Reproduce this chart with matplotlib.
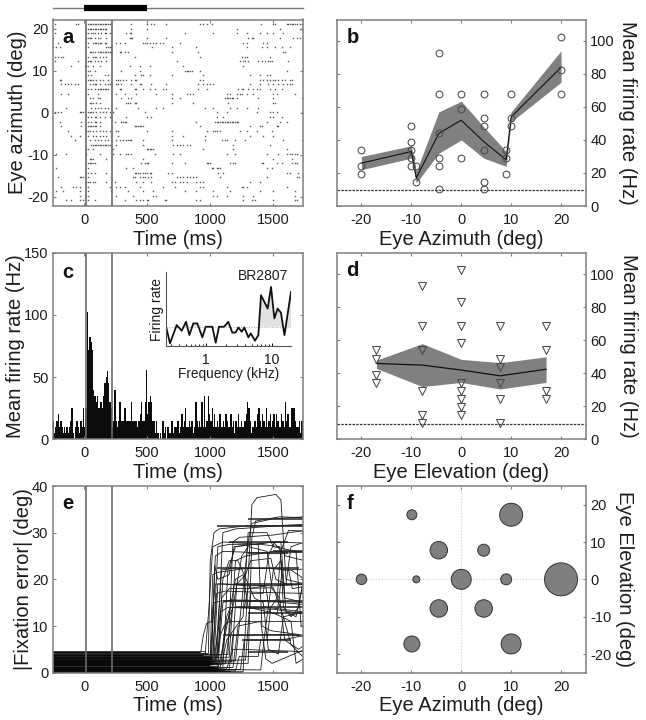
import numpy as np
import matplotlib
matplotlib.use('Agg')
import matplotlib.pyplot as plt

plt.rcParams['font.family'] = ['Liberation Sans', 'DejaVu Sans']
plt.rcParams['axes.unicode_minus'] = False

GREY = '#7f7f7f'
TXT = '#1c1c1c'
W, H = 646, 720

# panel a: spike times (ms) per row, top row first
row_y = [21.1 - 1.105 * i for i in range(39)]
spikes = [
    [-233, -61, -48, 32, 45, 58, 71, 85, 98, 111, 124, 138, 151, 164, 177, 190, 204, 376, 495, 534, 553, 653, 918, 944, 971, 1010, 1399, 1500, 1513, 1605, 1619, 1632, 1645, 1658, 1672, 1685, 1711, 1724],
    [32, 45, 58, 71, 85, 98, 111, 124, 138, 151, 164, 177, 376, 495, 1209, 1553, 1711, 1724],
    [-233, 19, 32, 58, 71, 85, 111, 138, 164, 177, 204, 336, 362, 376, 799, 1024, 1209, 1288, 1394, 1447, 1500, 1579],
    [-246, 19, 32, 45, 58, 85, 111, 124, 177, 362, 376, 382, 495, 653, 1301, 1328, 1341, 1553, 1658, 1685, 1711],
    [-206, 32, 71, 85, 98, 111, 124, 138, 164, 177, 257, 283, 323, 468, 481, 495, 521, 547, 574, 600, 627, 759, 1262, 1288, 1420, 1447],
    [-246, -220, -193, 32, 177, 190, 204, 217, 541, 693, 891, 1288, 1407, 1447, 1513, 1566, 1632],
    [45, 58, 71, 85, 111, 124, 138, 151, 164, 177, 190, 204, 217, 283, 296, 323, 349, 693, 905, 1579, 1592],
    [-233, -206, -180, -167, 32, 71, 85, 98, 124, 151, 177, 402, 918, 1248, 1275, 1288, 1473],
    [-233, -48, 32, 45, 58, 85, 111, 138, 177, 733, 1235, 1262, 1275, 1301, 1381, 1407, 1434, 1460, 1473, 1486, 1619],
    [-100, 5, 19, 32, 71, 124, 362, 442, 521, 786, 1262],
    [32, 45, 85, 296, 442, 799, 812, 825, 838, 852, 918, 1605],
    [32, 58, 164, 190, 402, 455, 468, 521, 693, 944, 1315, 1394, 1447, 1473],
    [-193, -180, 32, 45, 58, 71, 98, 124, 151, 190, 257, 270, 283, 309, 336, 376, 402, 415, 918, 944, 1394, 1420, 1447, 1473, 1500, 1513, 1539, 1566, 1592, 1632, 1645],
    [-180, -153, -127, -100, -74, -48, 45, 71, 85, 98, 124, 164, 190, 204, 257, 270, 296, 376, 442, 455, 534, 653, 905, 944, 971, 997, 1024, 1315, 1394, 1460, 1500, 1539, 1579, 1605, 1632, 1645],
    [32, 58, 85, 111, 124, 138, 151, 164, 177, 190, 283, 296, 402, 415, 468, 521, 560, 627, 653, 905, 971, 1222, 1248, 1262, 1301, 1341, 1367, 1394, 1473, 1513, 1566],
    [-180, -127, 32, 111, 257, 323, 415, 574, 693, 812, 838, 865, 1129, 1156, 1209, 1235, 1248, 1288, 1341, 1500, 1526, 1672],
    [45, 71, 111, 124, 296, 349, 376, 693, 759, 1116, 1129, 1143, 1156, 1169, 1182, 1209, 1381, 1500, 1724],
    [45, 58, 71, 98, 124, 336, 349, 362, 402, 415, 693, 865, 1143, 1500, 1513],
    [-140, 58, 85, 111, 138, 164, 190, 257, 428, 574, 627, 962, 1024, 1156, 1209, 1288, 1381],
    [-233, -206, -180, -34, -21, -8, 32, 45, 58, 71, 98, 124, 151, 177, 204, 230, 481, 1050, 1129, 1367, 1473, 1500, 1526, 1724],
    [32, 58, 85, 98, 124, 164, 204, 336, 495, 534, 1050, 1103, 1473, 1500, 1566],
    [-193, -21, 32, 58, 85, 98, 124, 243, 296, 309, 323, 336, 891, 1037, 1050, 1063, 1076, 1090, 1103, 1116, 1129, 1143, 1156, 1169, 1182, 1195, 1209, 1222, 1447, 1553, 1605],
    [-180, -21, 32, 45, 58, 71, 85, 98, 124, 402, 415, 428, 442, 455, 468, 918, 1315, 1394, 1407, 1526, 1539],
    [-127, 19, 32, 45, 71, 98, 124, 151, 177, 204, 257, 270, 495, 693, 971, 1024, 1037, 1050, 1076, 1235, 1288, 1367, 1486],
    [-100, -34, 32, 71, 98, 124, 151, 177, 217, 270, 693, 786, 957, 1315, 1420, 1500],
    [-74, 45, 85, 111, 138, 164, 190, 257, 283, 309, 336, 349, 362, 376, 468, 693, 957, 1090, 1116, 1129, 1195, 1275, 1579, 1724],
    [58, 71, 85, 98, 111, 124, 138, 151, 164, 177, 190, 204, 257, 468, 706, 733, 759, 786, 812, 838, 1182, 1473],
    [19, 32, 71, 230, 495, 508, 521, 534, 547, 944, 1182, 1605],
    [-220, -140, 19, 124, 230, 283, 336, 349, 376, 561, 706, 759, 1129, 1195, 1447, 1539, 1605, 1632, 1645, 1672, 1685],
    [45, 58, 71, 177, 468, 1500, 1645],
    [32, 45, 58, 71, 85, 455, 481, 495, 508, 693, 799, 971, 984, 997, 1156, 1182, 1195, 1407, 1420, 1526, 1566, 1645, 1672, 1685],
    [-220, 32, 336, 389, 1010, 1024, 1050, 1063, 1076, 1447, 1486],
    [32, 58, 85, 177, 402, 415, 428, 442, 468, 481, 495, 521, 534, 667, 693, 1063, 1103, 1605, 1632, 1698],
    [-206, -34, -21, -8, 32, 217, 389, 402, 442, 468, 481, 508, 534, 733, 759, 786, 812, 838, 865, 891, 1076, 1447, 1685, 1700],
    [19, 32, 45, 71, 85, 177, 243, 415, 468, 534, 693, 719, 759, 786, 812, 891, 918, 944, 1315, 1394],
    [-180, -87, -61, -34, 32, 204, 257, 283, 323, 442, 627, 719, 918, 944, 1129, 1248, 1262, 1288, 1605],
    [-220, -167, -34, 32, 217, 349, 468, 547, 800, 891, 1024, 1156, 1394, 1500, 1672],
    [-34, 32, 257, 389, 547, 574, 1024, 1050, 1129, 1262, 1341, 1672],
    [-140, -100, -34, -8, 32, 85, 323, 415, 442, 468, 495, 508, 640, 653, 891, 918, 1262, 1328, 1354, 1500, 1672, 1685],
]

# panel b: eye azimuth tuning
b_x = [-20, -10, -9, -4.5, 0, 4.5, 9, 10, 20]
b_mean = [26, 33, 17, 44, 52, 39, 28, 54, 84]
b_upper = [30, 36.5, 21, 57, 63.5, 48, 33, 57, 94]
b_lower = [22, 29, 14, 32, 40, 29, 24, 51, 75]
b_trials = {
    -20: [34, 24, 19.5],
    -10: [48.5, 39, 34, 29, 24],
    -9: [24, 14.5],
    -4.5: [92.5, 68, 44, 29, 24, 10],
    0: [68, 58.5, 29],
    4.5: [68, 53.5, 48.5, 34, 14.5, 10],
    9: [34, 29, 19.5],
    10: [68, 53.5, 48.5],
    20: [102.5, 82.5, 68],
}
spont_rate = 9.5

# panel c: PSTH, 10 ms bins starting at -250 ms
psth = [15, 5, 10, 15, 20, 10, 15, 10, 5, 10, 5, 10, 5, 10, 15, 25, 5, 0, 10, 15, 10, 5, 15, 10, 25,
        10, 25, 102, 72, 82, 78, 72, 40, 35, 30,
        35, 25, 25, 30, 25, 35, 45, 50, 55, 45,
        30, 25, 10, 15, 40, 15, 10, 15, 30, 15,
        15, 15, 25, 15, 15, 15, 15, 30, 15, 15,
        15, 15, 10, 15, 20, 30, 15, 15, 30, 56,
        20, 30, 35, 30, 15, 15, 5, 15, 5, 0,
        5, 0, 15, 5, 10, 0, 10, 5, 5, 15,
        5, 10, 10, 10, 15, 5, 10, 20, 10, 15,
        25, 10, 10, 15, 10, 15, 5, 10, 30, 15,
        10, 15, 10, 30, 10, 35, 10, 15, 35, 20,
        15, 25, 10, 20, 10, 15, 10, 20, 10, 10,
        15, 10, 20, 15, 10, 10, 20, 10, 15, 5,
        15, 10, 20, 10, 15, 10, 10, 15, 20, 30,
        25, 15, 5, 10, 10, 15, 10, 20, 25, 15,
        10, 20, 15, 10, 25, 10, 15, 20, 10, 15,
        20, 10, 20, 15, 10, 10, 20, 15, 10, 30,
        15, 20, 10, 10, 25, 25, 25, 15, 10, 10,
        15, 5, 15, 10]

# panel c inset: frequency tuning
freq = [0.248, 0.288, 0.364, 0.433, 0.504, 0.566, 0.65, 0.748, 0.89, 1.0, 1.26, 1.42, 1.59, 1.9, 2.2, 2.54,
        2.85, 3.13, 3.51, 3.85, 4.43, 4.81, 5.59, 6.28, 6.89, 8.69, 9.77, 10.97, 12.3, 13.8, 15.6, 19.6]
freq_rate = [63, 8, 63, 46, 73, 33, 68, 68, 26, 58, 58, 10, 58, 58, 73, 40,
             41, 56, 43, 56, 26, 38, 16, 33, 153, 113, 178, 83, 113, 100, 33, 163]
freq_base = 58

# panel d: eye elevation tuning
d_x = [-17, -7.8, 0, 7.8, 17]
d_mean = [46, 45, 42, 38.5, 42.5]
d_upper = [48, 58, 48.5, 46.5, 50]
d_lower = [43, 32, 34.5, 30.5, 34.5]
d_trials = {
    -17: [54, 49, 39, 34],
    -7.8: [93, 68.5, 54, 29.5, 14.5, 10],
    0: [102.5, 83, 68.5, 58.5, 34, 29.5, 24.5, 19.5, 14.5],
    7.8: [68.5, 49, 44, 34, 24.5, 10],
    17: [68.5, 54, 29.5, 24.5],
}

# panel e: |fixation error| traces as (time, deg) vertices
traces = [
    [(-250, 4.4), (925, 4.4), (945, 8), (970, 10.5), (1010, 11), (1040, 19), (1100, 19), (1300, 18.6), (1750, 19)],
    [(-250, 4.1), (985, 4.1), (1000, 24), (1030, 30), (1070, 30.8), (1300, 31.5), (1750, 31.5)],
    [(-250, 4.0), (960, 4), (990, 14), (1020, 27), (1100, 28), (1400, 27.5), (1550, 27), (1590, 16), (1750, 15)],
    [(-250, 3.8), (1000, 3.8), (1020, 21), (1060, 21.5), (1300, 22.4), (1620, 22.2), (1650, 18), (1750, 18.5)],
    [(-250, 3.45), (1010, 3.45), (1040, 25), (1100, 26), (1500, 25.6), (1750, 25.8)],
    [(-250, 3.4), (1000, 3.4), (1030, 15), (1090, 15.4), (1500, 15.2), (1750, 14.6)],
    [(-250, 3.2), (1020, 3.2), (1050, 17), (1120, 17.5), (1400, 17.2), (1750, 17)],
    [(-250, 2.85), (1020, 2.85), (1060, 27), (1150, 27.5), (1380, 27.5), (1410, 10), (1480, 9), (1750, 8)],
    [(-250, 2.8), (1030, 2.8), (1060, 19), (1120, 19), (1500, 18.6), (1750, 18.9)],
    [(-250, 2.6), (1030, 2.6), (1080, 13), (1140, 14), (1500, 13.6), (1750, 12.6)],
    [(-250, 2.4), (1040, 2.4), (1090, 22), (1180, 22.4), (1500, 22.3), (1600, 22), (1750, 22.2)],
    [(-250, 2.2), (1040, 2.2), (1080, 8), (1110, 10), (1150, 11), (1750, 11)],
    [(-250, 2.0), (1050, 2), (1100, 30), (1200, 30.8), (1600, 31.6), (1750, 31.8)],
    [(-250, 1.8), (1060, 1.8), (1090, 16), (1150, 18), (1500, 18.2), (1580, 12), (1640, 6), (1750, 3)],
    [(-250, 1.3), (1060, 1.3), (1100, 15), (1160, 15.6), (1500, 15.4), (1750, 15)],
    [(-250, 1.2), (1080, 1.2), (1130, 12), (1160, 14), (1450, 14), (1750, 13)],
    [(-250, 1.0), (1100, 1), (1140, 22), (1200, 27), (1500, 28), (1720, 27.8)],
    [(-250, 0.8), (1130, 0.8), (1180, 5), (1250, 5), (1750, 4.5)],
    [(-250, 0.6), (1150, 0.6), (1180, 8), (1250, 8), (1600, 8.2), (1750, 7.8)],
    [(-250, 0.4), (1200, 0.4), (1230, 3.5), (1380, 3.5), (1400, 7), (1600, 7.2), (1750, 8)],
    [(-250, 0.2), (1260, 0.2), (1300, 20), (1330, 36), (1370, 37.5), (1520, 38.2), (1560, 37), (1600, 20), (1750, 19)],
    [(-250, 3.9), (1140, 3.9), (1180, 28), (1230, 29), (1500, 29.5), (1750, 30.5)],
    [(-250, 3.3), (1150, 3.3), (1200, 24), (1280, 25), (1500, 26), (1750, 26)],
    [(-250, 2.5), (1200, 2.5), (1300, 28), (1330, 32), (1500, 33), (1750, 33.4)],
    [(-250, 2.1), (1300, 2), (1330, 29), (1360, 32.5), (1550, 33.4), (1750, 33.2)],
    [(-250, 1.1), (1180, 1.1), (1220, 10), (1400, 11), (1440, 3), (1490, 2), (1750, 5)],
    [(-250, 0.9), (1400, 0.6), (1430, 8), (1500, 22), (1560, 24), (1580, 14), (1640, 12), (1700, 14), (1750, 22)],
    [(-250, 0.1), (1050, 0.1), (1090, 4), (1200, 20), (1260, 21), (1300, 14), (1500, 12.8), (1640, 11), (1680, 2), (1740, 3)],
    [(-250, 3.8), (1090, 3.8), (1120, 10), (1180, 14), (1270, 14), (1300, 18), (1440, 18.6), (1470, 13), (1530, 12.5), (1570, 22), (1640, 22), (1750, 20)],
    [(-250, 4.5), (960, 4.5), (975, 2), (1000, 0.5), (1120, 0.4)],
    [(-250, 2.9), (1010, 2.9), (1035, 23), (1060, 20), (1150, 21), (1190, 27), (1500, 28), (1600, 25), (1750, 24)],
    [(-250, 0.7), (1240, 0.7), (1270, 7), (1450, 7), (1480, 14), (1530, 16), (1560, 26), (1620, 30.5), (1750, 30.3)],
    [(-250, 1.9), (1120, 1.9), (1160, 11), (1250, 25), (1300, 27), (1450, 26), (1490, 18), (1550, 16), (1590, 7), (1700, 5), (1750, 6)],
    [(-250, 2.3), (1170, 2.3), (1210, 19), (1280, 21), (1320, 24), (1480, 24.5), (1520, 20), (1600, 19), (1640, 27), (1750, 28)],
    [(-250, 2.7), (1280, 2.7), (1320, 17), (1420, 17), (1460, 25), (1510, 28), (1560, 28), (1600, 13), (1680, 12), (1750, 21)],
    [(-250, 1.7), (1090, 1.7), (1130, 7), (1260, 12), (1300, 30), (1450, 30), (1500, 27), (1680, 26), (1720, 10), (1750, 10)],
    [(-250, 3.25), (1060, 3.25), (1100, 20), (1150, 24), (1220, 24), (1350, 16), (1420, 15), (1460, 5), (1540, 4), (1580, 12), (1750, 13)],
]

# panel e: fixation levels of the other trials and when each one ends
fix_levels = [0.05, 0.15, 0.3, 0.45, 0.55, 0.7, 0.85, 1.0, 1.15, 1.25, 1.7, 1.85, 2.0, 2.15, 2.3, 2.45, 2.6, 2.75,
              3.15, 3.3, 3.45, 3.85, 4.5]
fix_ends = [1180, 1250, 1100, 1160, 1040, 1120, 1090, 1060, 1030, 1010, 1000, 1020, 1050, 980, 1000, 1010, 1030, 990,
            1010, 970, 1000, 940, 920]

# panel e: noisy stretches of the plateaus
hold_start = [1050, 1300, 1150, 1300, 1050, 1200, 1100, 1200, 1300, 1100, 1250, 1300, 1500]
hold_end = [1750, 1750, 1620, 1620, 1700, 1750, 1750, 1750, 1750, 1700, 1640, 1620, 1750]
hold_deg = [31.5, 33, 28, 25.7, 22.4, 19, 15.4, 14, 12.8, 8, 7, 4.4, 26]

# panel f: response at each eye position, marker diameter in pixels
f_az = [-9.9, 10, -4.5, 4.5, -20, -9, 0, 9, 20, -4.5, 4.5, -9.9, 10]
f_el = [17.3, 17.3, 7.8, 7.8, 0, 0, 0, 0, 0, -7.8, -7.8, -17.3, -17.3]
f_diam = [10, 23, 17.5, 12, 10.5, 7, 20, 11, 33, 17.5, 17.5, 16, 20]


def make_axes(left, top, right, bottom):
    return fig.add_axes([left / W, 1 - bottom / H, (right - left) / W, (bottom - top) / H])


def style(ax, side='left'):
    for sp in ax.spines.values():
        sp.set_color(GREY)
        sp.set_linewidth(1.1)
    ax.tick_params(direction='in', length=2, width=0.8, color=GREY, labelsize=10.5,
                   labelcolor=TXT, top=True, bottom=True, left=True, right=True)
    ax.tick_params(axis='x', pad=5)
    ax.tick_params(axis='y', pad=3)
    if side == 'right':
        ax.yaxis.tick_right()
        ax.yaxis.set_label_position('right')
        ax.tick_params(left=True, right=True)


def letter(ax, s, x, y):
    ax.text(x, y, s, transform=ax.transAxes, fontsize=14.5, fontweight='bold', color='#111', va='center')


def stim_lines(ax):
    for t in (18, 222):
        ax.axvline(t, color='#6a6a6a', lw=1.2, zorder=5)


def left_label(ax, s, px):
    # px is where the right edge of the rotated label sits in the figure
    ax.set_ylabel(s, fontsize=14.5, color=TXT)
    ax.yaxis.set_label_coords((px - 52.5) / 250.5, 0.5)


def right_label(ax, s, px):
    # same here, px is the right edge of the label
    ax.set_ylabel(s, fontsize=14.5, color=TXT, rotation=270)
    ax.yaxis.set_label_coords((px - 336.5) / 249.5, 0.5)


fig = plt.figure(figsize=(6.46, 7.2), dpi=100)

time_ticks = [0, 500, 1000, 1500]

# a
ax = make_axes(52.5, 19.5, 303, 206)
style(ax)
for y, ts in zip(row_y, spikes):
    dots = ax.scatter(ts, [y] * len(ts), s=1.0, marker='s', color='#222', alpha=0.75, linewidths=0)
    dots.set_snap(False)
stim_lines(ax)
ax.set_xlim(-250, 1735)
ax.set_ylim(-22.2, 22.2)
ax.set_xticks(time_ticks)
ax.set_yticks([-20, -10, 0, 10, 20])
ax.set_xlabel('Time (ms)', fontsize=14.5, color=TXT, labelpad=2)
left_label(ax, 'Eye azimuth (deg)', 27)
letter(ax, 'a', 0.04, 0.905)
trans = ax.get_xaxis_transform()
ax.plot([-250, 1735], [1.062, 1.062], transform=trans, color='#777', lw=1, clip_on=False)
ax.plot([0, 500], [1.062, 1.062], transform=trans, color='k', lw=4.5, clip_on=False, solid_capstyle='butt')

# b
ax = make_axes(336.5, 19.5, 586, 206)
style(ax, 'right')
ax.fill_between(b_x, b_lower, b_upper, color='#808080', lw=0)
ax.plot(b_x, b_mean, color='#111', lw=0.8)
for x, vals in b_trials.items():
    ax.plot([x] * len(vals), vals, 'o', mfc='none', mec='#4a4a4a', mew=0.75, ms=4.9)
ax.axhline(spont_rate, color='#333', lw=0.9, ls=(0, (2, 1)))
ax.set_xlim(-25, 25)
ax.set_ylim(0, 113)
ax.set_xticks([-20, -10, 0, 10, 20])
ax.set_yticks([0, 20, 40, 60, 80, 100])
ax.set_xlabel('Eye Azimuth (deg)', fontsize=14.5, color=TXT, labelpad=2)
right_label(ax, 'Mean firing rate (Hz)', 637)
letter(ax, 'b', 0.04, 0.905)

# c
ax = make_axes(52.5, 252.7, 303, 439.3)
style(ax)
psth_t = -250 + 10 * np.arange(len(psth))
ax.bar(psth_t, psth, width=11.5, align='edge', color='#0c0c0c', lw=0)
stim_lines(ax)
ax.set_xlim(-250, 1735)
ax.set_ylim(0, 150)
ax.set_xticks(time_ticks)
ax.set_yticks([0, 50, 100, 150])
ax.set_xlabel('Time (ms)', fontsize=14.5, color=TXT, labelpad=2)
left_label(ax, 'Mean firing rate (Hz)', 25)
letter(ax, 'c', 0.04, 0.895)

ins = make_axes(165.7, 272, 291, 346)
ins.set_xscale('log')
ins.fill_between(freq, freq_base, freq_rate, where=np.array(freq_rate) >= freq_base,
                 interpolate=True, color='#e2e2e2', lw=0)
ins.axhline(freq_base, color='#aaa', lw=0.7, ls=':')
ins.plot(freq, freq_rate, color='#111', lw=1.3)
ins.set_xlim(0.248, 19.6)
ins.set_ylim(0, 223)
ins.set_yticks([])
ins.set_xticks([1, 10])
ins.set_xticklabels(['1', '10'], fontsize=10, color=TXT)
ins.tick_params(axis='x', which='major', direction='in', length=2.5, width=0.7, pad=5)
ins.tick_params(axis='x', which='minor', direction='in', length=1.5, width=0.6)
ins.spines['top'].set_visible(False)
ins.spines['right'].set_visible(False)
ins.spines['left'].set_color('#555')
ins.spines['bottom'].set_color('#555')
ins.set_xlabel('Frequency (kHz)', fontsize=9.8, color=TXT, labelpad=0)
ins.set_ylabel('Firing rate', fontsize=10, color=TXT, labelpad=1)
ins.text(0.98, 0.95, 'BR2807', transform=ins.transAxes, fontsize=10, color=TXT, ha='right', va='center')

# d
ax = make_axes(336.5, 253, 586, 439.3)
style(ax, 'right')
ax.fill_between(d_x, d_lower, d_upper, color='#808080', lw=0)
ax.plot(d_x, d_mean, color='#111', lw=0.9)
for x, vals in d_trials.items():
    ax.plot([x] * len(vals), vals, 'v', mfc='none', mec='#4a4a4a', mew=0.75, ms=5.2)
ax.axhline(spont_rate, color='#333', lw=0.9, ls=(0, (2, 1)))
ax.set_xlim(-25, 25)
ax.set_ylim(0, 113)
ax.set_xticks([-20, -10, 0, 10, 20])
ax.set_yticks([0, 20, 40, 60, 80, 100])
ax.set_xlabel('Eye Elevation (deg)', fontsize=14.5, color=TXT, labelpad=2)
right_label(ax, 'Mean firing rate (Hz)', 638)
letter(ax, 'd', 0.04, 0.905)

# e
ax = make_axes(52.5, 486, 303, 672.7)
style(ax)
for tr in traces:
    tx, ty = zip(*tr)
    ax.plot(tx, ty, color='#1a1a1a', lw=0.6)
ax.hlines(fix_levels, -250, fix_ends, color='#0a0a0a', lw=0.85)
ax.hlines(hold_deg, hold_start, hold_end, color='#222', lw=1.1)
stim_lines(ax)
ax.set_xlim(-250, 1735)
ax.set_ylim(0, 40)
ax.set_xticks(time_ticks)
ax.set_yticks([0, 10, 20, 30, 40])
ax.set_xlabel('Time (ms)', fontsize=14.5, color=TXT, labelpad=2)
left_label(ax, '|Fixation error| (deg)', 33)
letter(ax, 'e', 0.04, 0.905)

# f
ax = make_axes(336.5, 486, 586, 672.7)
style(ax, 'right')
ax.axhline(0, color='#ccc', lw=0.8, ls=':')
ax.axvline(0, color='#ccc', lw=0.8, ls=':')
ax.scatter(f_az, f_el, s=(np.array(f_diam) * 0.72) ** 2, color='#7f7f7f', edgecolors='#333', linewidths=0.7, zorder=3)
ax.set_xlim(-25, 25)
ax.set_ylim(-25, 25)
ax.set_xticks([-20, -10, 0, 10, 20])
ax.set_yticks([-20, -10, 0, 10, 20])
ax.set_xlabel('Eye Azimuth (deg)', fontsize=14.5, color=TXT, labelpad=2)
right_label(ax, 'Eye Elevation (deg)', 634)
letter(ax, 'f', 0.04, 0.905)

fig.savefig('out.png', dpi=100)
